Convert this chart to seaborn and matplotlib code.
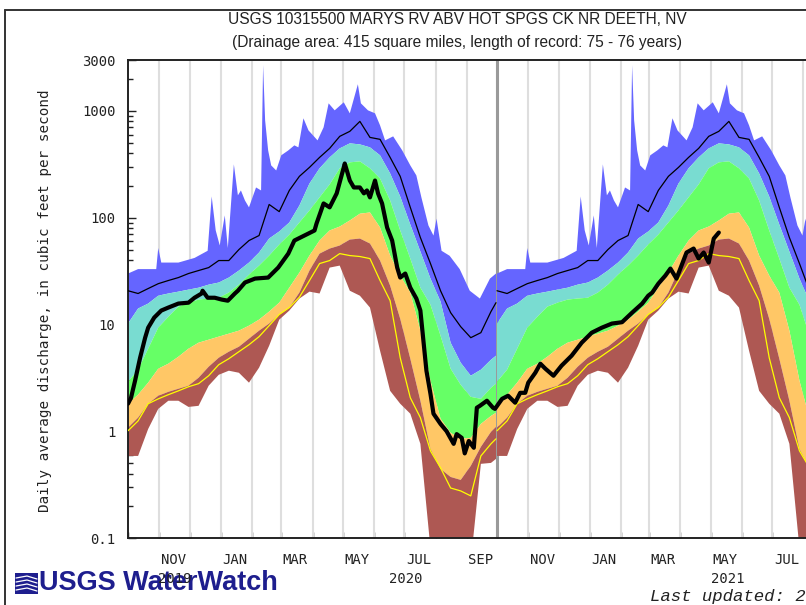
import matplotlib
matplotlib.use("Agg")
import numpy as np
import pandas as pd
import matplotlib.pyplot as plt
import matplotlib.dates as mdates
import matplotlib.ticker as mticker
from matplotlib.lines import Line2D
from matplotlib.patches import Rectangle
import seaborn as sns

# ---------------- data (cfs) ----------------
# day-of-water-year statistics (day 0 = Oct 1)
stat_day = [0, 10, 20, 30, 40, 50, 60, 70, 80, 90, 100, 110, 120, 130, 140, 150, 160, 170, 180,
            190, 200, 210, 220, 230, 240, 250, 260, 270, 280, 290, 300, 310, 320, 330, 340, 350, 360, 365]
p90_cfs = [10.2, 14.1, 15.7, 18.6, 19.5, 20.3, 21.2, 22.1, 23.6, 24.7, 27.5, 32.0, 38.0, 47.2, 63.8, 74.3, 90.2, 130, 209,
           290, 367, 446, 497, 486, 456, 384, 260, 158, 86.3, 48.2, 26.9, 16.4, 6.75, 4.38, 3.31, 3.77, 4.67, 5.1]
p75_cfs = [2.91, 3.77, 5.93, 9.33, 11.8, 14.7, 16.0, 17.1, 17.5, 17.8, 19.9, 23.6, 29.3, 35.6, 44.2, 56.1, 69.5, 90.2, 117,
           155, 205, 290, 330, 337, 290, 233, 145, 75.9, 41.4, 22.1, 15.3, 7.85, 3.85, 2.72, 2.10, 2.01, 2.55, 2.79]
p25_cfs = [1.81, 2.20, 2.85, 3.85, 4.29, 4.99, 5.93, 6.75, 7.20, 7.69, 8.20, 8.75, 9.75, 11.1, 13.2, 16.0, 22.1, 30.6, 44.2,
           61.1, 75.9, 82.6, 94.2, 109, 112, 80.9, 44.2, 28.7, 19.9, 8.75, 2.97, 1.31, 0.966, 0.849, 0.867, 1.17, 1.39, 1.49]
p10_cfs = [1.08, 1.34, 1.81, 2.15, 2.34, 2.50, 2.67, 3.17, 4.02, 4.88, 5.56, 6.19, 7.36, 8.75, 10.2, 12.4, 14.4, 19.9, 32.0,
           46.1, 51.4, 54.9, 62.4, 63.8, 57.3, 39.7, 23.1, 11.3, 4.78, 1.93, 0.684, 0.444, 0.373, 0.350, 0.474, 0.714, 0.987, 1.10]
min_cfs = [0.587, 0.587, 1.05, 1.62, 1.93, 1.93, 1.69, 1.73, 2.67, 3.38, 3.69, 3.53, 2.85, 3.94, 6.32, 11.1, 13.5, 17.5, 20.3,
           19.5, 34.1, 35.6, 20.7, 18.6, 14.4, 5.68, 2.39, 1.81, 1.46, 0.762, 0.08, 0.05, 0.05, 0.05, 0.06, 0.495, 0.505, 0.551]
mean_cfs = [20.7, 19.5, 21.7, 24.1, 25.8, 27.5, 30.0, 32.0, 34.1, 39.7, 39.7, 50.3, 61.1, 68.1, 133, 114, 180, 244, 296,
            367, 446, 578, 644, 798, 565, 542, 367, 244, 125, 65.2, 37.2, 20.7, 12.9, 9.53, 7.52, 8.38, 13.2, 16.0]
yellow_cfs = [1.01, 1.25, 1.81, 2.01, 2.20, 2.39, 2.61, 2.79, 3.31, 4.20, 4.78, 5.56, 6.46, 7.69, 9.75, 12.4, 14.4, 18.0, 25.8,
              37.2, 39.7, 46.1, 44.2, 43.3, 41.4, 25.8, 16.7, 4.88, 2.06, 1.34, 0.655, 0.454, 0.294, 0.276, 0.248, 0.587, 0.762, 0.849]

max_day = [0, 10, 28, 30, 33, 50, 66, 79, 83, 87, 91, 96, 99, 105, 109, 112, 116, 120, 127, 132,
           134, 136, 139, 142, 147, 152, 159, 165, 169, 174, 179, 188, 194, 199, 205, 214, 220, 228, 231, 238,
           245, 250, 255, 263, 272, 280, 286, 291, 298, 303, 306, 311, 319, 329, 339, 349, 359, 365]
max_cfs = [30, 33, 33, 52, 38, 38, 42, 49, 158, 76, 55, 105, 52, 316, 162, 180, 145, 125, 192, 180,
           2680, 817, 427, 309, 277, 384, 427, 476, 456, 853, 658, 530, 702, 1178, 1013, 1205, 950, 1777, 1178, 1013,
           950, 733, 530, 578, 427, 309, 249, 155, 84.5, 68, 98, 49, 44, 33, 20.7, 17.5, 26.9, 30]

# observed daily flow (day 0 = 2019-10-01)
flow_day = [0, 3, 7, 12, 17, 20, 26, 33, 40, 50, 60, 66, 73, 74, 79, 86, 93, 99, 106, 109,
            116, 126, 139, 149, 159, 165, 175, 185, 187, 194, 200, 207, 214, 215, 220, 224, 230, 234, 237, 240,
            245, 248, 252, 257, 262, 267, 270, 275, 280, 286, 290, 293, 296, 300, 303, 310, 316, 323, 326, 331,
            334, 338, 343, 346, 349, 356, 362, 364, 371, 377, 384, 389, 394, 397, 404, 409, 414, 422, 430, 440,
            450, 460, 470, 480, 490, 500, 510, 516, 520, 526, 533, 538, 544, 549, 554, 561, 566, 571, 576, 581, 586]
flow_cfs = [1.81, 2.06, 2.97, 4.88, 7.52, 9.33, 11.6, 13.5, 14.4, 15.7, 16.0, 17.8, 19.5, 20.7, 17.8, 17.8, 17.1, 16.7, 19.5, 20.7,
            24.7, 26.9, 27.5, 34.1, 46.1, 61.1, 68.1, 75.9, 88.2, 136, 125, 169, 296, 322, 223, 192, 192, 169, 180, 155,
            223, 169, 136, 80.9, 61.1, 34.1, 27.5, 30.0, 22.1, 17.5, 13.5, 7.05, 3.69, 2.24, 1.46, 1.17, 1.0, 0.762, 0.94, 0.867,
            0.62, 0.81, 0.70, 1.66, 1.73, 1.93, 1.66, 1.62, 2.01, 2.15, 1.85, 2.29, 2.29, 2.85, 3.53, 4.29, 3.85, 3.31, 4.11, 5.10,
            6.75, 8.38, 9.33, 10.2, 10.5, 12.9, 15.7, 18.6, 19.9, 24.1, 28.7, 33.4, 26.9, 35.6, 47.2, 51.4, 41.4, 47.2, 38.0, 63.8, 72.6]

water_year_starts = ["2019-10-01", "2020-10-01"]
month_label_dates = ["2019-11-15", "2020-01-15", "2020-03-15", "2020-05-15", "2020-07-15", "2020-09-15",
                     "2020-11-15", "2021-01-15", "2021-03-15", "2021-05-15", "2021-07-15"]
year_labels = ["2019", "2020", "2021"]
y_tick_values = [0.1, 1, 10, 100, 1000, 3000]
y_tick_labels = ["0.1", "1", "10", "100", "1000", "3000"]
title_line1 = "USGS 10315500 MARYS RV ABV HOT SPGS CK NR DEETH, NV"
title_line2 = "(Drainage area: 415 square miles, length of record: 75 - 76 years)"

# ---------------- style ----------------
C_BLUE, C_CYAN, C_GREEN = "#6565FF", "#79DCD1", "#66FF66"
C_ORANGE, C_BROWN, C_YELLOW = "#FFC766", "#AE5853", "#FFFF00"

sns.set_theme(style="white")
plt.rcParams["font.family"] = ["DejaVu Sans"]

W, H = 806, 605
fig = plt.figure(figsize=(W / 100, H / 100), dpi=100)
fig.patch.set_facecolor("white")
ax = fig.add_axes([128 / W, 1 - 538 / H, 737 / W, (538 - 60) / H])
ax.set_facecolor("white")
ax.set_yscale("log")


def to_num(start, days):
    return mdates.date2num(pd.Timestamp(start) + pd.to_timedelta(np.asarray(days, dtype=float), unit="D"))


def band(xu, yu, xl, yl, color):
    xs = np.concatenate([xu, xl[::-1]])
    ys = np.concatenate([np.asarray(yu, float), np.asarray(yl, float)[::-1]])
    ax.fill(xs, ys, color=color, lw=0, zorder=2)


x0 = mdates.date2num(pd.Timestamp("2019-10-01"))
x1 = mdates.date2num(pd.Timestamp("2021-10-01"))

# month grid lines
for m in pd.date_range("2019-11-01", "2021-09-01", freq="MS"):
    ax.axvline(mdates.date2num(m), color="#DEDEDE", lw=1.5, zorder=1)
ax.axvline(mdates.date2num(pd.Timestamp("2020-10-01")), color="#9A9A9A", lw=2.2, zorder=1.5)

rows = []
for start in water_year_starts:
    sx = to_num(start, stat_day)
    mx = to_num(start, max_day)
    band(mx, max_cfs, sx, p90_cfs, C_BLUE)
    band(sx, p90_cfs, sx, p75_cfs, C_CYAN)
    band(sx, p75_cfs, sx, p25_cfs, C_GREEN)
    band(sx, p25_cfs, sx, p10_cfs, C_ORANGE)
    band(sx, p10_cfs, sx, min_cfs, C_BROWN)
    rows.append(pd.DataFrame({"x": sx, "mean": mean_cfs, "yellow": yellow_cfs, "wy": start}))
stats = pd.concat(rows, ignore_index=True)
flow = pd.DataFrame({"x": to_num("2019-10-01", flow_day), "flow": flow_cfs})

for start in water_year_starts:
    d = stats[stats["wy"] == start]
    sns.lineplot(data=d, x="x", y="yellow", ax=ax, color=C_YELLOW, lw=0.9,
                 estimator=None, sort=False, zorder=3)
    sns.lineplot(data=d, x="x", y="mean", ax=ax, color="black", lw=0.9,
                 estimator=None, sort=False, zorder=3)
sns.lineplot(data=flow, x="x", y="flow", ax=ax, color="black", lw=3.0,
             estimator=None, sort=False, zorder=4)

ax.set_xlim(x0, x1)
ax.set_ylim(0.1, 3000)
ax.set_xlabel("")
ax.set_ylabel("")

# x axis ticks
ax.xaxis.set_major_locator(mdates.MonthLocator())
ax.xaxis.set_major_formatter(mticker.NullFormatter())
ax.xaxis.set_minor_locator(mticker.FixedLocator(
    [mdates.date2num(pd.Timestamp(s)) for s in month_label_dates]))
ax.xaxis.set_minor_formatter(mticker.FuncFormatter(
    lambda v, p: mdates.num2date(v).strftime("%b").upper()))
ax.tick_params(axis="x", which="major", direction="in", length=4.5, width=1.0,
               color="#222222", bottom=True, top=False)
ax.tick_params(axis="x", which="minor", length=0, pad=11, labelsize=10)

# y axis ticks
ax.yaxis.set_major_locator(mticker.FixedLocator(y_tick_values))
ax.yaxis.set_major_formatter(mticker.FixedFormatter(y_tick_labels))
ax.yaxis.set_minor_locator(mticker.LogLocator(base=10, subs=[2, 3, 4, 5, 6, 7, 8, 9]))
ax.yaxis.set_minor_formatter(mticker.NullFormatter())
ax.tick_params(axis="y", which="major", direction="in", length=6, width=1.0,
               color="#222222", left=True, right=False, pad=9, labelsize=10)
ax.tick_params(axis="y", which="minor", direction="in", length=3.5, width=1.0,
               color="#222222", left=True, right=False)
for lab in ax.get_xticklabels(minor=True) + ax.get_yticklabels():
    lab.set_family("DejaVu Sans Mono")
    lab.set_color("#222222")

for side in ["left", "bottom", "top", "right"]:
    ax.spines[side].set_visible(True)
    ax.spines[side].set_color("#222222")
    ax.spines[side].set_linewidth(1.4)
ax.grid(False)

# year labels (centred on each calendar year's visible span)
year_spans = [("2019-10-01", "2020-01-01"), ("2020-01-01", "2021-01-01"), ("2021-01-01", "2021-10-01")]
for lab, (a, b) in zip(year_labels, year_spans):
    xc = (mdates.date2num(pd.Timestamp(a)) + mdates.date2num(pd.Timestamp(b))) / 2
    ax.text(xc, -0.086, lab, transform=ax.get_xaxis_transform(), ha="center", va="center",
            family="DejaVu Sans Mono", fontsize=10, color="#222222", clip_on=False, zorder=10)

# titles and labels
fig.text(457 / W, 1 - 20 / H, title_line1, ha="center", va="center",
         family="Liberation Sans", fontsize=11.2, color="#222222")
fig.text(457 / W, 1 - 42 / H, title_line2, ha="center", va="center",
         family="Liberation Sans", fontsize=11.2, color="#222222")
fig.text(45 / W, 1 - 301 / H, "Daily average discharge, in cubic feet per second",
         rotation=90, ha="center", va="center", family="DejaVu Sans Mono",
         fontsize=10.3, color="#222222")
fig.text(650 / W, 1 - 597 / H, "Last updated: 2021-05-09", ha="left", va="center",
         family="Liberation Mono", style="italic", fontsize=12.5, color="#222222")

# outer frame of the page
fig.add_artist(Line2D([4.5 / W, 4.5 / W], [0, 1 - 10 / H], transform=fig.transFigure,
                      color="#333333", lw=1.4))
fig.add_artist(Line2D([4.5 / W, 1], [1 - 10 / H, 1 - 10 / H], transform=fig.transFigure,
                      color="#333333", lw=1.4))

# WaterWatch logo
NAVY = "#1E1E8E"
fig.add_artist(Rectangle((15 / W, 1 - 594 / H), 23 / W, 21 / H, transform=fig.transFigure,
                         facecolor=NAVY, edgecolor="none", zorder=-2))
for k in range(4):
    yy = 1 - (578 + 4 * k) / H
    fig.add_artist(Line2D([16 / W, 27 / W, 37 / W], [yy, yy + 2 / H, yy - 1 / H],
                          transform=fig.transFigure, color="white", lw=0.9, zorder=-1))
fig.text(39 / W, 1 - 583 / H, "USGS WaterWatch", ha="left", va="center",
         family="Liberation Sans", weight="bold", fontsize=19.5, color=NAVY, zorder=-1)

fig.savefig("out.png", dpi=100)
